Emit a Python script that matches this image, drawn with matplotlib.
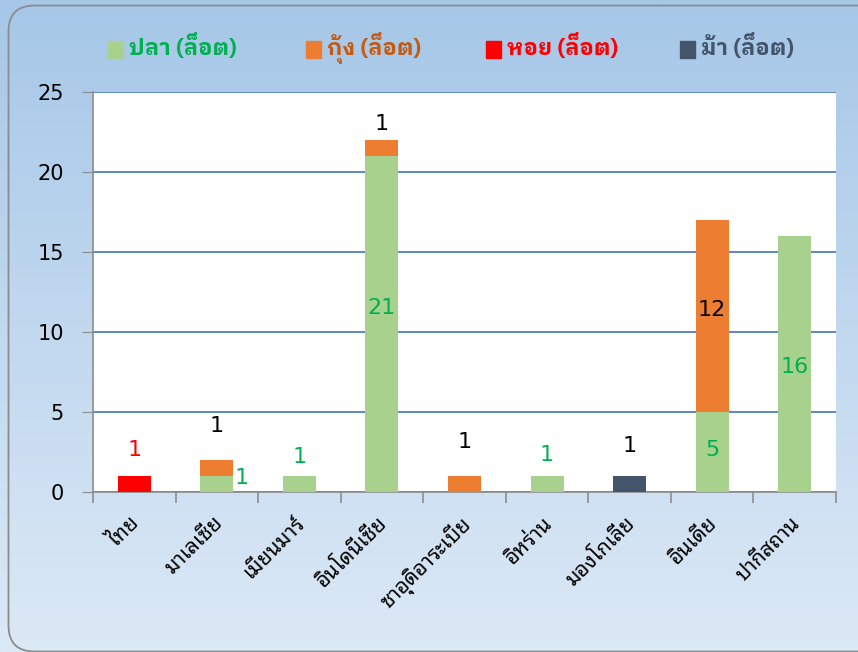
import matplotlib
matplotlib.use("Agg")
import matplotlib.pyplot as plt
import numpy as np
from matplotlib import font_manager
from matplotlib.ft2font import FT2Font
from matplotlib.patches import FancyBboxPatch
from matplotlib.colors import LinearSegmentedColormap

# find installed families that have Thai glyphs (and which of them have a bold face)
found, bold_found = set(), set()
for f in font_manager.fontManager.ttflist:
    try:
        cmap = FT2Font(f.fname).get_charmap()
    except Exception:
        continue
    if 0x0E1B in cmap and 0x0E25 in cmap:
        found.add(f.name)
        if isinstance(f.weight, int) and f.weight >= 600 or f.weight in ("bold", "semibold", "demibold"):
            bold_found.add(f.name)
prefer = ["Noto Sans Thai Looped", "Noto Sans Thai", "IBM Plex Sans Thai Looped",
          "Sarabun", "Loma", "Garuda"]
thai_family = next((p for p in prefer if p in found), sorted(found)[0] if found else None)
thai_bold = next((p for p in prefer if p in bold_found), thai_family)
thai_fams = ([thai_family] if thai_family else []) + ["DejaVu Sans"]
bold_fams = ([thai_bold] if thai_bold else []) + ["DejaVu Sans"]
plt.rcParams["font.family"] = ["DejaVu Sans"] + ([thai_family] if thai_family else [])

countries = ["ไทย", "มาเลเซีย", "เมียนมาร์", "อินโดนีเซีย", "ซาอุดิอาระเบีย",
             "อิหร่าน", "มองโกเลีย", "อินเดีย", "ปากีสถาน"]
fish = [0, 1, 1, 21, 0, 1, 0, 5, 16]
shrimp = [0, 1, 0, 1, 1, 0, 0, 12, 0]
shell = [1, 0, 0, 0, 0, 0, 0, 0, 0]
horse = [0, 0, 0, 0, 0, 0, 1, 0, 0]
series_names = ["ปลา (ล็อต)", "กุ้ง (ล็อต)", "หอย (ล็อต)", "ม้า (ล็อต)"]

bar_colors = ["#a9d18e", "#ed7d31", "#ff0000", "#44546a"]
text_colors = ["#00b050", "#c55a11", "#ff0000", "#44546a"]

fig = plt.figure(figsize=(8.58, 6.52), dpi=100)

# gradient background with rounded border (pixel coordinates)
bg = fig.add_axes([0, 0, 1, 1], zorder=-10)
grad = np.linspace(0, 1, 256).reshape(-1, 1)
cm = LinearSegmentedColormap.from_list("bg", ["#dce9f6", "#a6c7e8"])
bg.imshow(grad, aspect="auto", cmap=cm, origin="lower", extent=[0, 858, 0, 652])
bg.set_xlim(0, 858)
bg.set_ylim(0, 652)
bg.axis("off")
border = FancyBboxPatch((8.5, 0.5), 900, 646, boxstyle="round,pad=0,rounding_size=26",
                        fc="none", ec="#8c8c8c", lw=1.3)
bg.add_patch(border)

ax = fig.add_axes([93 / 858, 1 - 492 / 652, 743 / 858, 400 / 652])
x = np.arange(len(countries))
w = 0.4
bottom = np.zeros(len(countries))
for vals, c in zip([fish, shrimp, shell, horse], bar_colors):
    ax.bar(x, vals, w, bottom=bottom, color=c, zorder=3)
    bottom += np.array(vals)

ax.set_xlim(-0.5, len(countries) - 0.5)
ax.set_ylim(0, 25)
ax.set_yticks(range(0, 26, 5))
ax.yaxis.grid(True, color="#4472c4", lw=1.2)
ax.set_axisbelow(True)
for sp in ["top", "right"]:
    ax.spines[sp].set_visible(False)
for sp in ["left", "bottom"]:
    ax.spines[sp].set_color("#8c8c8c")
    ax.spines[sp].set_linewidth(1.2)
ax.tick_params(axis="y", length=8, color="#8c8c8c", labelsize=15, pad=13)
ax.set_xticks(np.arange(-0.5, len(countries) + 0.5, 1))
ax.set_xticklabels([])
ax.tick_params(axis="x", length=8, color="#8c8c8c", width=1.2)
for i, name in enumerate(countries):
    ax.text(i - 0.06, -1.3, name, rotation=45, ha="right", va="top",
            rotation_mode="anchor", fontsize=15, family=thai_fams, fontweight="medium")

# data labels: (x, y, text, colour), y positions
labels = [
    (0, 2.6, "1", "#ff0000"),
    (1, 4.1, "1", "black"),
    (1.3, 0.9, "1", text_colors[0]),
    (2, 2.2, "1", text_colors[0]),
    (3, 11.5, "21", text_colors[0]),
    (3, 23.0, "1", "black"),
    (4, 3.1, "1", "black"),
    (5, 2.3, "1", text_colors[0]),
    (6, 2.9, "1", "black"),
    (7, 11.4, "12", "black"),
    (7, 2.6, "5", text_colors[0]),
    (8, 7.8, "16", text_colors[0]),
]
for lx, ly, t, c in labels:
    ax.text(lx, ly, t, color=c, ha="center", va="center", fontsize=16)

# legend row
leg_x = [108, 306, 486, 680]
for lx, name, c, tc in zip(leg_x, series_names, bar_colors, text_colors):
    fig.patches.append(plt.Rectangle((lx / 858, 1 - 58 / 652), 15 / 858, 17 / 652,
                                     color=c, transform=fig.transFigure))
    fig.text((lx + 21) / 858, 1 - 55 / 652, name, color=tc, fontsize=16,
             fontweight="bold", va="baseline", ha="left", family=bold_fams)

fig.savefig("out.png", dpi=100)
